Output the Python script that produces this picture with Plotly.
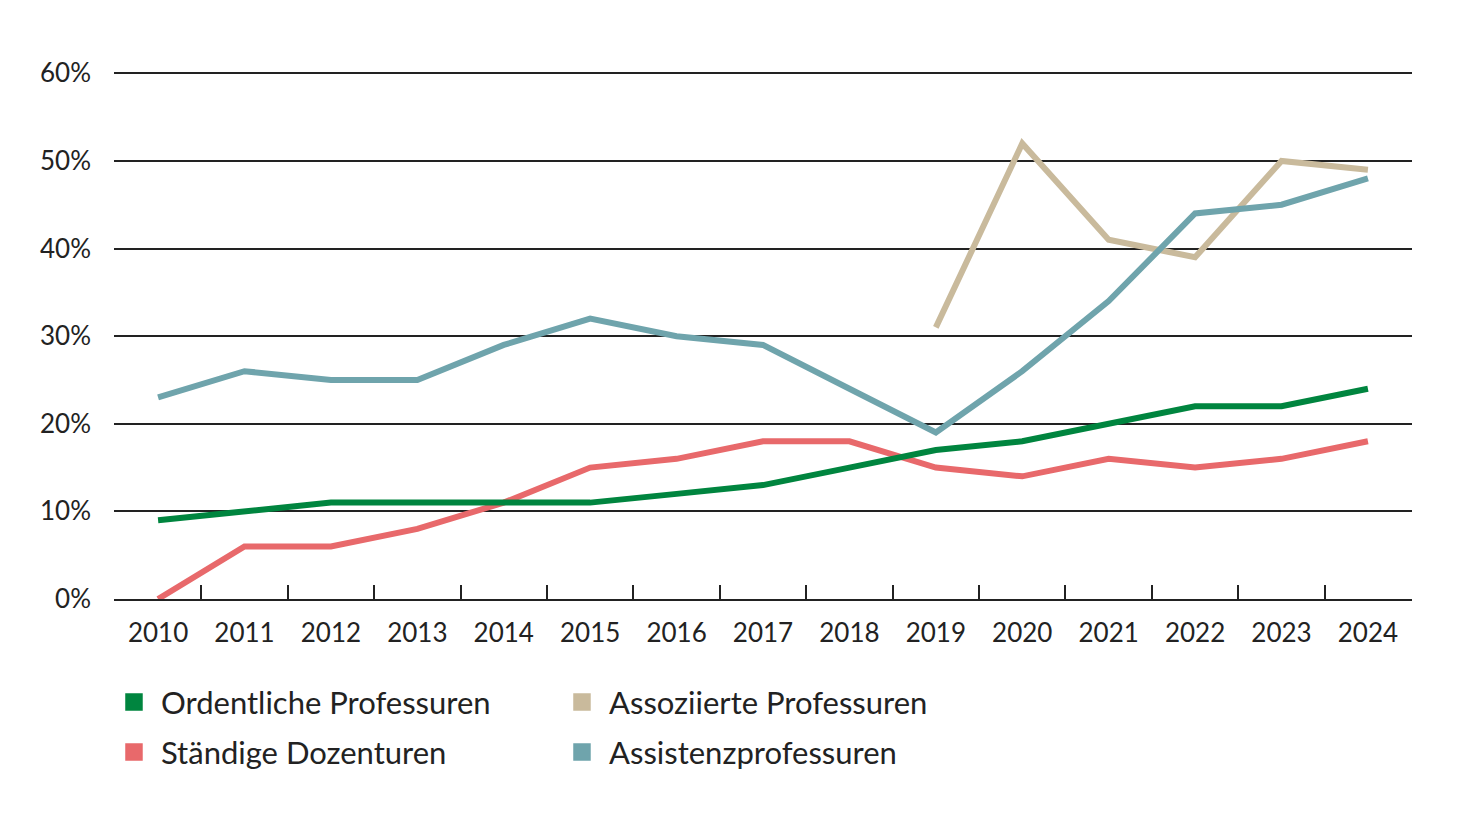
import plotly.graph_objects as go

years = [str(y) for y in range(2010, 2025)]
ordentliche = [9, 10, 11, 11, 11, 11, 12, 13, 15, 17, 18, 20, 22, 22, 24]
staendige = [0, 6, 6, 8, 11, 15, 16, 18, 18, 15, 14, 16, 15, 16, 18]
assoz_years = [str(y) for y in range(2019, 2025)]
assoziierte = [31, 52, 41, 39, 50, 49]
assistenz = [23, 26, 25, 25, 29, 32, 30, 29, 24, 19, 26, 34, 44, 45, 48]

colors = {"Ordentliche Professuren": "#00853F", "Ständige Dozenturen": "#E8696B",
          "Assoziierte Professuren": "#C9BA9C", "Assistenzprofessuren": "#6FA4AC"}

FONT = "Lato, Open Sans, sans-serif"
fig = go.Figure()

series = [("Assoziierte Professuren", assoz_years, assoziierte),
          ("Assistenzprofessuren", years, assistenz),
          ("Ständige Dozenturen", years, staendige),
          ("Ordentliche Professuren", years, ordentliche)]
for name, xs, ys in series:
    fig.add_trace(go.Scatter(x=xs, y=ys, mode="lines", name=name, showlegend=False,
                             line=dict(color=colors[name], width=6), hoverinfo="skip"))

legend_rows = [("legend", ["Ordentliche Professuren", "Assoziierte Professuren"]),
               ("legend2", ["Ständige Dozenturen", "Assistenzprofessuren"])]
for leg, items in legend_rows:
    for name in items:
        fig.add_trace(go.Scatter(x=[None], y=[None], mode="markers", name=name,
                                 legend=leg,
                                 marker=dict(symbol="square", size=16, color=colors[name],
                                             line=dict(color=colors[name], width=1.5))))

leg_common = dict(orientation="h", xref="paper", yref="paper", xanchor="left",
                  yanchor="middle", entrywidth=389, entrywidthmode="pixels",
                  itemwidth=44,
                  font=dict(family=FONT, size=31, color="#222"),
                  bgcolor="rgba(0,0,0,0)", itemclick=False, traceorder="normal")

fig.update_layout(
    width=1465, height=817,
    margin=dict(l=106, r=61, t=64, b=226),
    paper_bgcolor="white", plot_bgcolor="white",
    font=dict(family=FONT, size=26, color="#222"),
    xaxis=dict(type="category", categoryorder="array", categoryarray=years,
               range=[-0.51, 14.51], tickson="boundaries", ticks="inside",
               ticklen=14, tickwidth=1.5, tickcolor="#222",
               showline=True, linecolor="#222", linewidth=1.5,
               showgrid=False, ticklabelstandoff=10,
               tickfont=dict(family=FONT, size=26, color="#222")),
    yaxis=dict(range=[0, 60.15], tickvals=[0, 10, 20, 30, 40, 50, 60],
               ticktext=["0%", "10%", "20%", "30%", "40%", "50%", "60%"],
               showgrid=True, gridcolor="#222", gridwidth=1.5,
               zeroline=False, showline=False, ticks="",
               ticklabelstandoff=22,
               tickfont=dict(family=FONT, size=26, color="#222")),
    legend=dict(x=-0.0054, y=-0.196, **leg_common),
    legend2=dict(x=-0.0054, y=-0.291, **leg_common),
)

fig.write_html("out.html")
